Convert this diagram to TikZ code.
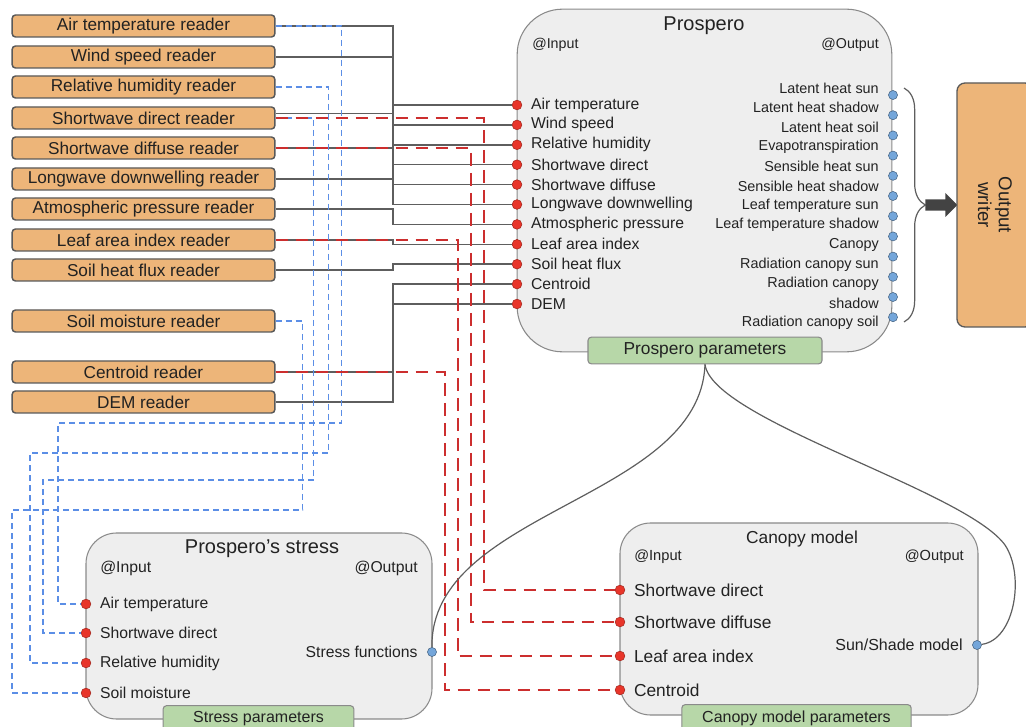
\documentclass[tikz,border=0pt]{standalone}
\usepackage{fontspec}
\setmainfont{Liberation Sans}
\usetikzlibrary{positioning,calc}
\usetikzlibrary{shapes.arrows,decorations.pathreplacing}

\definecolor{readerorange}{HTML}{EDB579}
\definecolor{edgegray}{HTML}{595959}
\definecolor{boxgray}{HTML}{EEEEEE}
\definecolor{boxedge}{HTML}{8A8A8A}
\definecolor{paramgreen}{HTML}{B7D7A8}
\definecolor{wiregray}{HTML}{5E5E5E}
\definecolor{dashblue}{HTML}{5B8EE6}
\definecolor{dashred}{HTML}{CC2E2E}
\definecolor{dotred}{HTML}{E8352A}
\definecolor{dotblue}{HTML}{74A6DA}
\definecolor{textgray}{HTML}{222222}
\definecolor{arrowgray}{HTML}{434343}

\tikzset{
  reader/.style={draw=edgegray, line width=1.1pt, fill=readerorange, rounded corners=2.5pt,
    minimum width=197pt, minimum height=16.5pt, inner sep=0pt, text=textgray,
    font=\fontsize{12.9}{14}\selectfont},
  module/.style={draw=boxedge, line width=0.8pt, fill=boxgray, inner sep=0pt},
  param/.style={draw=boxedge, line width=0.8pt, fill=paramgreen, rounded corners=2.5pt,
    minimum height=20pt, inner sep=0pt, text=textgray},
  indot/.style={circle, draw=dotred!70!black, line width=0.4pt, fill=dotred, minimum size=7.3pt, inner sep=0pt},
  outdot/.style={circle, draw=dotblue!60!black, line width=0.4pt, fill=dotblue, minimum size=6.8pt, inner sep=0pt},
  inlbl/.style={inner sep=0pt, text=textgray, font=\fontsize{11.8}{13}\selectfont},
  outlbl/.style={inner sep=0pt, text=textgray, font=\fontsize{10.8}{12}\selectfont},
  tag/.style={inner sep=0pt, text=textgray, font=\fontsize{10.7}{12}\selectfont},
  modtitle/.style={inner sep=0pt, text=textgray, font=\fontsize{15}{17}\selectfont},
  wire/.style={draw=wiregray, line width=1.1pt},
  bluewire/.style={draw=dashblue, line width=1.2pt, dash pattern=on 4.5pt off 3pt},
  redwire/.style={draw=dashred, line width=1.4pt, dash pattern=on 9.5pt off 5.5pt},
}

\begin{document}
\begin{tikzpicture}[x=0.75pt, y=-0.75pt]
\useasboundingbox (0,0) rectangle (1026,727);

% the three modules
\node[module, rounded corners=34pt, minimum width=281pt, minimum height=257pt] (prospero) at (704.5,180.5) {};
\node[module, rounded corners=23pt, minimum width=259.5pt, minimum height=139.5pt] (stress) at (259,626) {};
\node[module, rounded corners=23pt, minimum width=268.5pt, minimum height=144pt] (canopy) at (799,619) {};

\node[param, minimum width=175.5pt, font=\fontsize{13}{14}\selectfont] (pParam) at (705,350.5) {Prospero parameters};
\node[param, minimum width=143pt, font=\fontsize{12}{13}\selectfont] (sParam) at (258.5,719) {Stress parameters};
\node[param, minimum width=172pt, font=\fontsize{12}{13}\selectfont] (cParam) at (796.5,718) {Canopy model parameters};

\node[modtitle] (tPro) at (704,26) {Prospero};
\node[tag, anchor=west] (pInTag) at (532,45) {@Input};
\node[tag, anchor=east] (pOutTag) at (879,45) {@Output};
\node[modtitle] (tStress) at (262,549) {Prospero’s stress};
\node[inlbl, anchor=west] (sInTag) at (100,568) {@Input};
\node[inlbl, anchor=east] (sOutTag) at (418,568) {@Output};
\node[modtitle, font=\fontsize{13}{15}\selectfont] (tCan) at (802,539) {Canopy model};
\node[tag, font=\fontsize{11}{12}\selectfont, anchor=west] (cInTag) at (634,557) {@Input};
\node[tag, font=\fontsize{11}{12}\selectfont, anchor=east] (cOutTag) at (964,557) {@Output};

% readers
\foreach \n/\y/\t in {rAir/26/Air temperature reader, rWind/57/Wind speed reader,
    rRH/87/Relative humidity reader, rSWdir/118/Shortwave direct reader,
    rSWdif/148/Shortwave diffuse reader, rLW/179/Longwave downwelling reader,
    rAtm/209/Atmospheric pressure reader, rLAI/240/Leaf area index reader,
    rSHF/270/Soil heat flux reader, rSM/321/Soil moisture reader,
    rCen/372/Centroid reader, rDEM/402/DEM reader}
  \node[reader] (\n) at (143.5,\y) {\t};

% inputs and outputs
\foreach \n/\i/\t in {pAir/0/Air temperature, pWind/1/Wind speed, pRH/2/Relative humidity,
    pSWdir/3/Shortwave direct, pSWdif/4/Shortwave diffuse, pLW/5/Longwave downwelling,
    pAtm/6/Atmospheric pressure, pLAI/7/Leaf area index, pSHF/8/Soil heat flux,
    pCen/9/Centroid, pDEM/10/DEM}
{
  \node[indot] (\n) at (517,{105+19.9*\i}) {};
  \node[inlbl, right=6.5pt of \n] (\n-l) {\t};
}
\foreach \i/\t in {0/Latent heat sun, 1/Latent heat shadow, 2/Latent heat soil,
    3/Evapotranspiration, 4/Sensible heat sun, 5/Sensible heat shadow,
    6/Leaf temperature sun, 7/Leaf temperature shadow, 8/Canopy,
    9/Radiation canopy sun, 10/Radiation canopy, 11/shadow, 12/Radiation canopy soil}
  \node[outlbl, anchor=east] (o\i) at (879,{88+19.6*\i}) {\t};
\foreach \i in {0,...,11}
  \node[outdot] (q\i) at (893,{95+20.2*\i}) {};

\foreach \n/\y/\t in {sAir/604/Air temperature, sSWdir/633/Shortwave direct,
    sRH/663/Relative humidity, sSM/693/Soil moisture}
{
  \node[indot] (\n) at (86,\y) {};
  \node[inlbl, right=6.5pt of \n] (\n-l) {\t};
}
\node[outdot] (sOut) at (432,652) {};
\node[inlbl, left=7pt of sOut] (sOut-l) {Stress functions};

\foreach \n/\y/\t in {cSWdir/590/Shortwave direct, cSWdif/622/Shortwave diffuse,
    cLAI/656/Leaf area index, cCen/690/Centroid}
{
  \node[indot] (\n) at (620,\y) {};
  \node[inlbl, font=\fontsize{13}{14}\selectfont, right=6.5pt of \n] (\n-l) {\t};
}
\node[outdot] (cOut) at (977,645) {};
\node[inlbl, font=\fontsize{12}{13}\selectfont, left=7pt of cOut] (cOut-l) {Sun/Shade model};

% gray wires to Prospero
\coordinate (bus) at (393,0);
\draw[wire] (rAir.east) -- (rAir.east -| bus) |- (pAir);
\draw[wire] (rWind.east) -- (rWind.east -| bus) |- (pWind);
\draw[wire] (pAir -| bus) |- (pRH);
\draw[wire] ([yshift=3.5pt]rSWdir.east) -- ([yshift=3.5pt]rSWdir.east -| bus) |- (pSWdir);
\draw[wire] (rSWdif.east) -- (rSWdif.east -| bus) |- (pSWdif);
\draw[wire] (rLW.east) -- (rLW.east -| bus) |- (pLW);
\draw[wire] (rAtm.east) -- (rAtm.east -| bus) |- (pAtm);
\draw[wire] (rLAI.east) -- (rLAI.east -| bus) |- (pLAI);
\draw[wire] (rSHF.east) -- (rSHF.east -| bus) |- (pSHF);
\draw[wire] (rCen.east) -- (rCen.east -| bus) |- (pCen);
\draw[wire] (rDEM.east) -- (rDEM.east -| bus) |- (pDEM);

% blue wires to Prospero's stress
\draw[bluewire] (rAir.east) -- ++(66,0) |- (58,423) |- (sAir);
\draw[bluewire] (rRH.east) -- ++(53,0) |- (30,453) |- (sRH);
\draw[bluewire] (rSWdir.east) -- ++(38,0) |- (43,480) |- (sSWdir);
\draw[bluewire] (rSM.east) -- ++(27,0) |- (12,510) |- (sSM);

% red wires to canopy model
\draw[redwire] (rSWdir.east) -- ++(208,0) |- (cSWdir);
\draw[redwire] (rSWdif.east) -- ++(195,0) |- (cSWdif);
\draw[redwire] (rLAI.east) -- ++(182,0) |- (cLAI);
\draw[redwire] (rCen.east) -- ++(169,0) |- (cCen);

% parameters
\draw[wire, line width=0.9pt] (pParam.south) .. controls (700,500) and (430,510) .. (sOut);
\draw[wire, line width=0.9pt] (pParam.south) .. controls (712,420) and (965,490) .. (1005,545)
  .. controls (1025,575) and (1015,640) .. (cOut);

% output writer
\draw[wire, line width=0.9pt, decorate, decoration={brace, amplitude=16pt}] (904,88) -- (904,322);
\node[single arrow, fill=arrowgray, minimum height=24pt, minimum width=18pt,
  single arrow head extend=4.5pt, inner sep=3.8pt, anchor=tail] (outArrow) at (925,205) {};
\node[draw=edgegray, line width=1pt, fill=readerorange, rounded corners=6pt, rotate=-90,
  minimum width=183pt, minimum height=57pt, align=center, text=textgray,
  font=\fontsize{14}{15.5}\selectfont] (writer) at (995,205) {Output\\writer};
\end{tikzpicture}
\end{document}
